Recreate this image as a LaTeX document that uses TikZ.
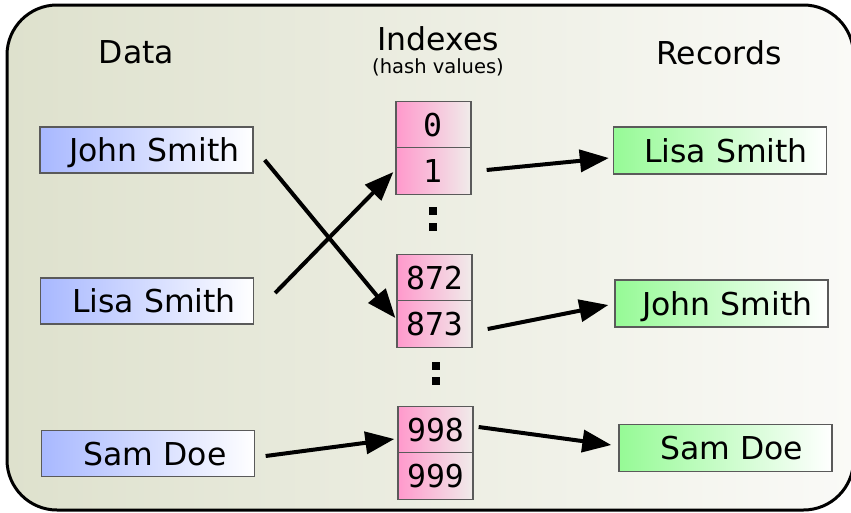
\documentclass[tikz,border=0pt]{standalone}
\usepackage{fontspec}
\setmainfont{DejaVu Sans}
\setmonofont{DejaVu Sans Mono}
\usetikzlibrary{calc,arrows.meta}

\definecolor{panelL}{RGB}{222,225,205}
\definecolor{panelR}{RGB}{250,250,247}
\definecolor{dataL}{RGB}{168,184,255}
\definecolor{idxL}{RGB}{255,153,204}
\definecolor{idxR}{RGB}{240,236,234}
\definecolor{recL}{RGB}{150,250,150}
\definecolor{edge}{RGB}{90,90,90}

\tikzset{
  big/.style={font=\fontsize{31.5}{36}\selectfont},
  small/.style={font=\fontsize{19.5}{22}\selectfont},
  cell/.style={draw=edge, line width=1.3pt, inner sep=0pt, rectangle},
  databox/.style={cell, minimum width=213pt, minimum height=46pt, left color=dataL, right color=white},
  recbox/.style={cell, minimum width=213pt, minimum height=47pt, left color=recL, right color=white},
  idxbox/.style={cell, minimum width=75pt, minimum height=46.5pt, left color=idxL, right color=idxR},
  label/.style={big, anchor=base, inner sep=0pt},
  num/.style={font=\ttfamily\fontsize{31.5}{36}\selectfont, anchor=base, inner sep=0pt},
  dot/.style={fill=black, minimum size=8pt, inner sep=0pt, rectangle},
  link/.style={line width=4pt, -{Triangle[length=29pt,width=22pt]}}
}

\begin{document}
\begin{tikzpicture}[x=1pt,y=-1pt]
\useasboundingbox (0,0) rectangle (851,512);

% panel
\path[left color=panelL, right color=panelR, draw=black, line width=3pt, rounded corners=50pt]
  (7,5) rectangle (853.5,510);

% column headings
\node[label] (hData) at (136.5,63) {Data};
\node[label] (hIdx) at (438,50) {Indexes};
\node[small, anchor=base, inner sep=0pt] (hHash) at (438,73) {(hash values)};
\node[label] (hRec) at (719,64) {Records};

% data column
\node[databox] (dJohn) at (146.5,150) {};
\node[databox] (dLisa) at (147,301) {};
\node[databox] (dSam) at (148,453.5) {};
\node[label] (tdJohn) at ($(dJohn.center)+(8,11.5)$) {John Smith};
\node[label] (tdLisa) at ($(dLisa.center)+(7,11.5)$) {Lisa Smith};
\node[label] (tdSam) at ($(dSam.center)+(7,11.5)$) {Sam Doe};

% hash table slots
\node[idxbox] (i0) at (433.5,124.5) {};
\node[idxbox] (i1) at (433.5,171) {};
\node[idxbox] (i872) at (434.5,277.5) {};
\node[idxbox] (i873) at (434.5,324) {};
\node[idxbox] (i998) at (435.5,430) {};
\node[idxbox] (i999) at (435.5,476) {};
\node[num] (t0) at ($(i0.center)+(-1,11.5)$) {0};
\node[num] (t1) at ($(i1.center)+(-1,11.5)$) {1};
\node[num] (t872) at ($(i872.center)+(0,11.5)$) {872};
\node[num] (t873) at ($(i873.center)+(0,11.5)$) {873};
\node[num] (t998) at ($(i998.center)+(0,11.5)$) {998};
\node[num] (t999) at ($(i999.center)+(0,11.5)$) {999};

% ellipsis between slots
\node[dot] (da1) at (432.5,210.5) {};
\node[dot] (da2) at (432.5,226.5) {};
\node[dot] (db1) at (435.5,365.5) {};
\node[dot] (db2) at (435.5,380.5) {};

% records column
\node[recbox] (rLisa) at (720,150.5) {};
\node[recbox] (rJohn) at (721.5,303.5) {};
\node[recbox] (rSam) at (725.5,448) {};
\node[label] (trLisa) at ($(rLisa.center)+(6,11.5)$) {Lisa Smith};
\node[label] (trJohn) at ($(rJohn.center)+(6,11.5)$) {John Smith};
\node[label] (trSam) at ($(rSam.center)+(6,11.5)$) {Sam Doe};

% keys to slots
\draw[link] ($(dJohn.east)+(11,10)$) -- ($(i873.west)+(-1,-6)$);
\draw[link] ($(dLisa.east)+(21,-8)$) -- ($(i1.west)+(-2,1)$);
\draw[link] ($(dSam.east)+(10.5,2.5)$) -- ($(i998.west)+(-3,9)$);

% slots to records
\draw[link] ($(i1.east)+(15,-1)$) -- ($(rLisa.west)+(-4,7.5)$);
\draw[link] ($(i873.east)+(15,5)$) -- ($(rJohn.west)+(-6,1.5)$);
\draw[link] ($(i998.east)+(5,-3)$) -- ($(rSam.west)+(-7,-3)$);
\end{tikzpicture}
\end{document}
